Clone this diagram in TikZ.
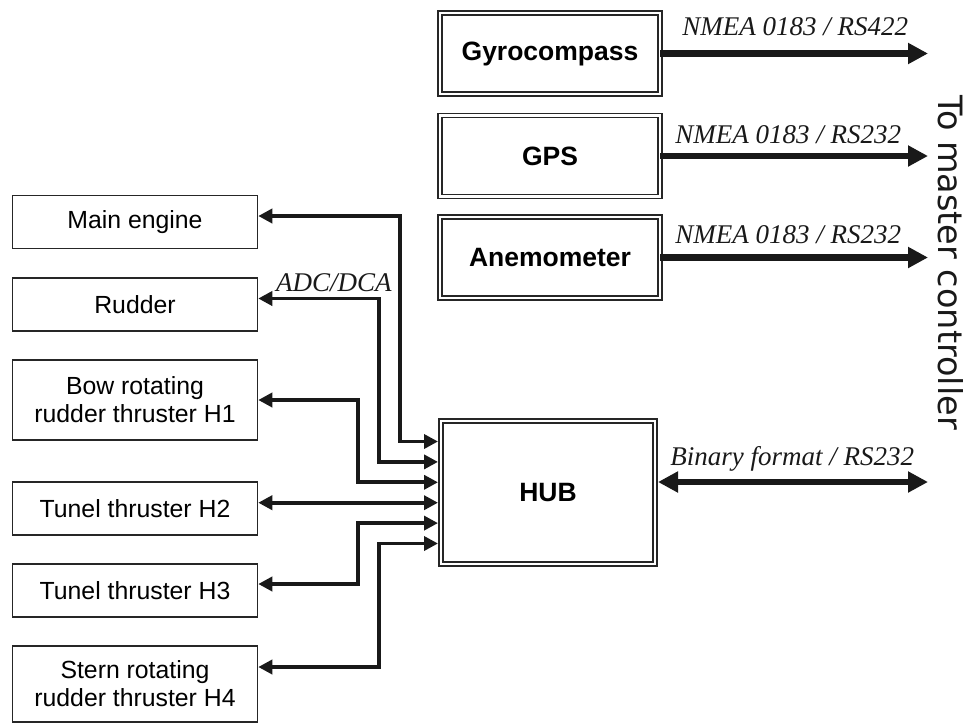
\documentclass[tikz,border=0pt]{standalone}
\usepackage{fontspec}
\setmainfont{Liberation Sans}
\newfontfamily\serifit{Liberation Serif}
\newfontfamily\sidefont{DejaVu Sans}
\usetikzlibrary{arrows.meta}

\begin{document}
\begin{tikzpicture}[
        x=1pt, y=-1pt,
        unit/.style={draw=black!85, line width=1.5pt, minimum width=245pt, minimum height=53pt,
            align=center, inner sep=0pt, font=\fontsize{24.8}{28}\selectfont},
        sensor/.style={draw=black!85, line width=1.8pt, double, double distance=2.2pt,
            minimum width=220pt, minimum height=81pt, inner sep=0pt, outer sep=0pt,
            font=\fontsize{26.5}{30}\selectfont\bfseries},
        link/.style={line width=3.8pt, black!90,
            {Triangle[length=14pt,width=14pt]}-{Triangle[length=14pt,width=14pt]}},
        feed/.style={line width=6.5pt, black!90, -{Triangle[length=20pt,width=20pt]}},
        proto/.style={anchor=base west, inner sep=0pt, black!90,
            font=\fontsize{27}{30}\selectfont\serifit\itshape}
    ]
        \useasboundingbox (0,0) rectangle (963,726);

        % sensors and hub
        \node[sensor] (gyro) at (550,53.5) {Gyrocompass};
        \node[sensor] (gps) at (550,156) {GPS};
        \node[sensor] (anemo) at (550,257.5) {Anemometer};
        \node[sensor, minimum width=214pt, minimum height=143pt] (hub) at (548,492.5) {HUB};

        % actuators
        \node[unit] (main) at (135,222) {Main engine};
        \node[unit] (rudder) at (135,304.5) {Rudder};
        \node[unit, minimum height=80pt] (bow) at (135,400) {Bow rotating\\rudder thruster H1};
        \node[unit] (tunel2) at (135,508.5) {Tunel thruster H2};
        \node[unit] (tunel3) at (135,590.5) {Tunel thruster H3};
        \node[unit, minimum height=76pt] (stern) at (135,684) {Stern rotating\\rudder thruster H4};

        \node[rotate=-90, anchor=base, inner sep=0pt, black!90,
            font=\sidefont\fontsize{33.5}{40}\selectfont] (master) at (938,262.5) {To master controller};

        % hub inputs and bus columns
        \foreach \k in {0,...,5}
            \coordinate (in\k) at ([xshift=-3pt,yshift={(2.5-\k)*20.4pt}]hub.west);
        \coordinate (colA) at (400,0);
        \coordinate (colB) at (379,0);
        \coordinate (colC) at (358,0);
        \coordinate (tipx) at (928,0);

        \draw[link] ([yshift=6pt]main.east) -| (in0 -| colA) -- (in0);
        \draw[link] ([yshift=6pt]rudder.east) node[proto, xshift=16pt, yshift=7pt] {ADC/DCA}
            -| (in1 -| colB) -- (in1);
        \draw[link] (bow.east) -| (in2 -| colC) -- (in2);
        \draw[link] (in3 -| tunel2.east) -- (in3);
        \draw[link] ([yshift=6.5pt]tunel3.east) -| (in4 -| colC) -- (in4);
        \draw[link] ([yshift=17pt]stern.east) -| (in5 -| colB) -- (in5);

        % serial lines to the master controller
        \draw[feed] (gyro.east) node[proto, xshift=19pt, yshift=18pt] {NMEA 0183 / RS422}
            -- (gyro.east -| tipx);
        \draw[feed] (gps.east) node[proto, xshift=12pt, yshift=13pt] {NMEA 0183 / RS232}
            -- (gps.east -| tipx);
        \draw[feed] (anemo.east) node[proto, xshift=12pt, yshift=14pt] {NMEA 0183 / RS232}
            -- (anemo.east -| tipx);
        \draw[feed, {Triangle[length=20pt,width=20pt]}-{Triangle[length=20pt,width=20pt]}]
            ([xshift=3pt,yshift=10.5pt]hub.east) node[proto, xshift=9pt, yshift=17pt] {Binary format / RS232}
            -- ([yshift=10.5pt]hub.east -| tipx);
    \end{tikzpicture}
\end{document}
